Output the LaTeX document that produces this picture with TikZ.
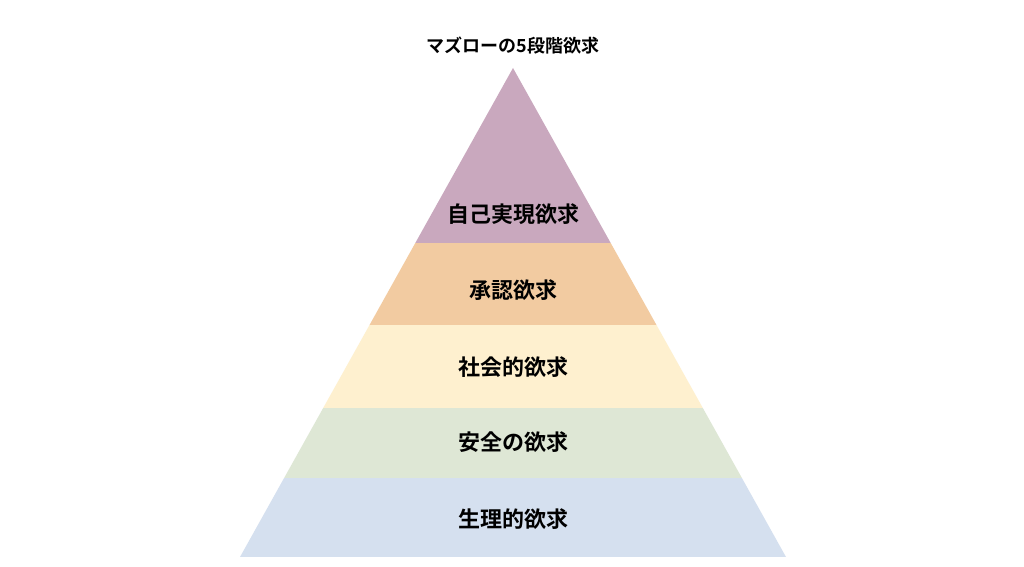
\documentclass[tikz,border=0pt]{standalone}
\usepackage{fontspec}
\setmainfont{Noto Sans CJK JP}[BoldFont={* Bold}]
\definecolor{c1}{HTML}{C9A8BE}
\definecolor{c2}{HTML}{F2CBA1}
\definecolor{c3}{HTML}{FEF0CF}
\definecolor{c4}{HTML}{DEE7D5}
\definecolor{c5}{HTML}{D5E0EF}
\begin{document}
\begin{tikzpicture}[x=0.75pt,y=-0.75pt,
  lab/.style={font=\bfseries\fontsize{16.5}{18}\selectfont, text=black}]
\useasboundingbox (0,0) rectangle (1024,567);
\fill[white] (0,0) rectangle (1024,567);
\begin{scope}
\clip (513,68) -- (786,557) -- (240,557) -- cycle;
\fill[c1] (0,60) rectangle (1024,243);
\fill[c2] (0,243) rectangle (1024,325);
\fill[c3] (0,325) rectangle (1024,408);
\fill[c4] (0,408) rectangle (1024,478);
\fill[c5] (0,478) rectangle (1024,557);
\end{scope}
\node[font=\bfseries\fontsize{13.5}{15}\selectfont] (t) at (513,46) {マズローの5段階欲求};
\node[lab] (a) at (513,214) {自己実現欲求};
\node[lab] (b) at (513,290) {承認欲求};
\node[lab] (c) at (513,367) {社会的欲求};
\node[lab] (d) at (513,442) {安全の欲求};
\node[lab] (e) at (513,519) {生理的欲求};
\end{tikzpicture}
\end{document}
